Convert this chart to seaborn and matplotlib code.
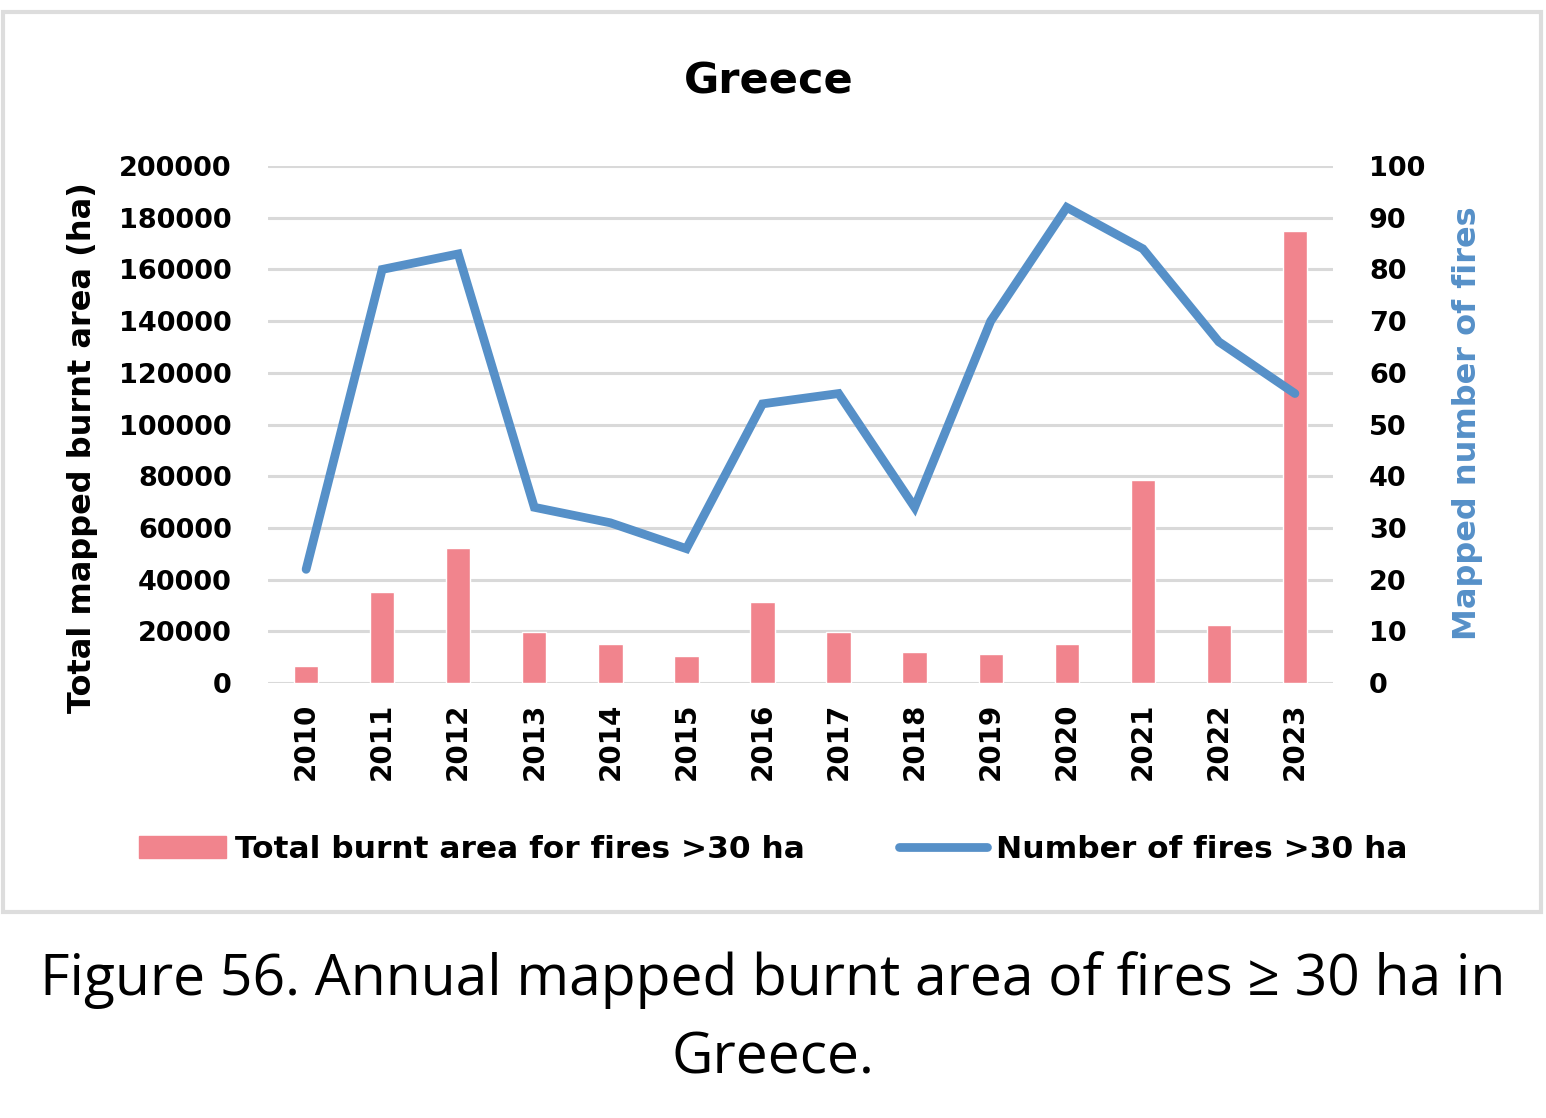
import matplotlib.pyplot as plt
import matplotlib.patches as mpatches
from matplotlib.lines import Line2D
import numpy as np
import pandas as pd
import seaborn as sns

years = ['2010', '2011', '2012', '2013', '2014', '2015', '2016',
         '2017', '2018', '2019', '2020', '2021', '2022', '2023']
burnt_area = [6800, 35300, 52400, 19800, 15200, 10600, 31500,
              19800, 12200, 11400, 15200, 78700, 22300, 174800]
n_fires = [22, 80, 83, 34, 31, 26, 54, 56, 34, 70, 92, 84, 66, 56]

bar_color = '#F1848D'
line_color = '#5690C8'
grid_color = '#D9D9D9'

df = pd.DataFrame({'year': years, 'area': burnt_area, 'fires': n_fires})

sns.set_theme(style='white')
plt.rcParams['font.family'] = ['DejaVu Sans']
plt.rcParams['text.color'] = 'black'
plt.rcParams['axes.labelcolor'] = 'black'
plt.rcParams['xtick.color'] = 'black'
plt.rcParams['ytick.color'] = 'black'

fig = plt.figure(figsize=(15.46, 11.18), dpi=100)
ax = fig.add_axes([0.1734, 0.389, 0.6888, 0.4625])

sns.barplot(data=df, x='year', y='area', color=bar_color, width=0.32,
            saturation=1, ax=ax)
ax.set_ylim(0, 200000)
ax.set_xlim(-0.5, len(years) - 0.5)
ax.set_yticks(np.arange(0, 200001, 20000))
ax.yaxis.grid(True, color=grid_color, linewidth=2.2)
ax.set_axisbelow(True)
for s in ax.spines.values():
    s.set_visible(False)
ax.tick_params(axis='y', length=0, labelsize=19.5, pad=26)
ax.tick_params(axis='x', length=0, labelsize=20, pad=14)
for lab in ax.get_yticklabels():
    lab.set_fontweight('bold')
for lab in ax.get_xticklabels():
    lab.set_fontweight('bold')
    lab.set_rotation(90)
ax.set_xlabel('')
ax.set_ylabel('Total mapped burnt area (ha)', fontsize=23, fontweight='bold')
ax.yaxis.set_label_coords(-0.16, 0.456)

ax2 = ax.twinx()
sns.lineplot(x=df.index, y=df['fires'], color=line_color, linewidth=6.3,
             ax=ax2, solid_capstyle='round', solid_joinstyle='miter')
ax2.set_ylim(0, 100)
ax2.set_yticks(np.arange(0, 101, 10))
for s in ax2.spines.values():
    s.set_visible(False)
ax2.tick_params(axis='y', length=0, labelsize=19.5, pad=26)
for lab in ax2.get_yticklabels():
    lab.set_fontweight('bold')
ax2.set_ylabel('Mapped number of fires', fontsize=23, fontweight='bold',
               color=line_color)
ax2.yaxis.set_label_coords(1.112, 0.503)
ax2.grid(False)

fig.text(0.497, 1 - 82 / 1118, 'Greece', ha='center', va='center',
         fontsize=31, fontweight='bold')

handles = [mpatches.Patch(color=bar_color, label='Total burnt area for fires >30 ha'),
           Line2D([0], [0], color=line_color, linewidth=6.3,
                  label='Number of fires >30 ha')]
fig.legend(handles=handles, loc='center', bbox_to_anchor=(0.5, 1 - 849 / 1118),
           ncol=2, frameon=False, handlelength=2.8, columnspacing=3,
           handletextpad=0.3, prop={'weight': 'bold', 'size': 22.5})

fig.add_artist(mpatches.Rectangle((0.002, 1 - 912 / 1118), 0.995, 900 / 1118,
                                  transform=fig.transFigure, fill=False,
                                  edgecolor='#DDDDDD', linewidth=3))

fig.text(0.5, 1 - 980 / 1118, 'Figure 56. Annual mapped burnt area of fires ≥ 30 ha in',
         ha='center', va='center', fontsize=41, family='Open Sans')
fig.text(0.5, 1 - 1059 / 1118, 'Greece.', ha='center', va='center', fontsize=41,
         family='Open Sans')

fig.savefig('out.png', dpi=100, facecolor='white')
